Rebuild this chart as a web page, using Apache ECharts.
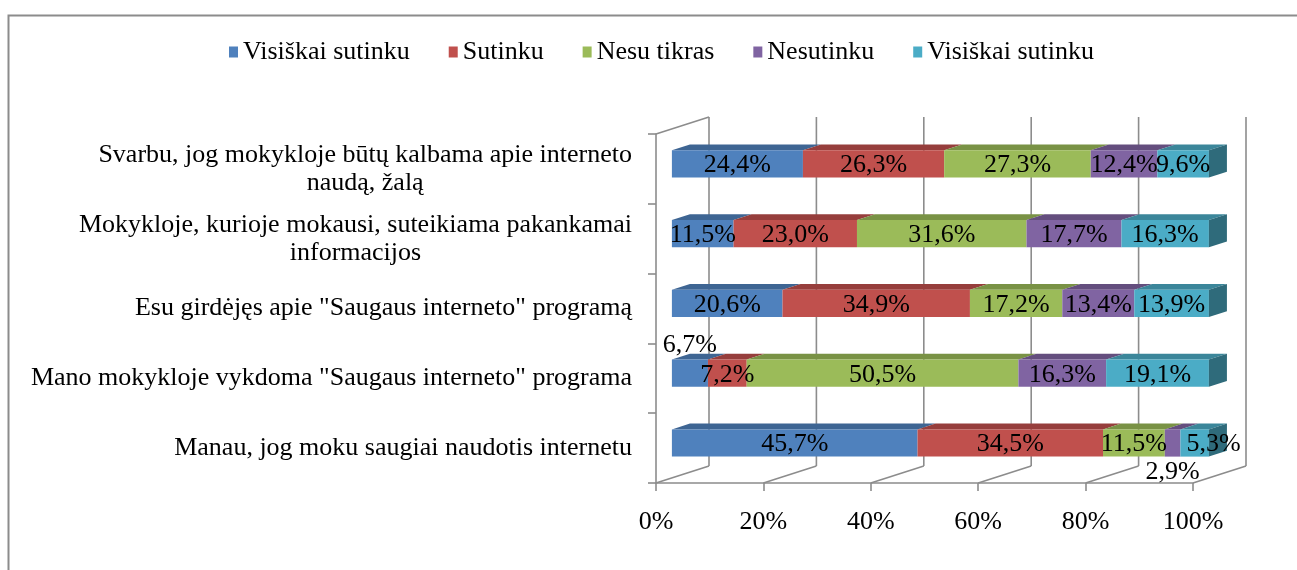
<!DOCTYPE html>
<html><head><meta charset="utf-8">
<script src="https://cdn.jsdelivr.net/npm/echarts@6/dist/echarts.min.js"></script>
<style>html,body{margin:0;padding:0;background:#fff}#c{width:1297px;height:570px}</style>
</head><body><div id="c"></div>
<script>
const categories = [
  'Svarbu, jog mokykloje būtų kalbama apie interneto\nnaudą, žalą',
  'Mokykloje, kurioje mokausi, suteikiama pakankamai\ninformacijos',
  'Esu girdėjęs apie "Saugaus interneto" programą',
  'Mano mokykloje vykdoma "Saugaus interneto" programa',
  'Manau, jog moku saugiai naudotis internetu'
];
const seriesNames = ['Visiškai sutinku', 'Sutinku', 'Nesu tikras', 'Nesutinku', 'Visiškai sutinku'];
const visiskaiSutinku = [24.4, 11.5, 20.6, 6.7, 45.7];
const sutinku        = [26.3, 23.0, 34.9, 7.2, 34.5];
const nesuTikras     = [27.3, 31.6, 17.2, 50.5, 11.5];
const nesutinku      = [12.4, 17.7, 13.4, 16.3, 2.9];
const visiskaiSutinku2 = [9.6, 16.3, 13.9, 19.1, 5.3];
const tickValues = [0, 20, 40, 60, 80, 100];

const seriesValues = [visiskaiSutinku, sutinku, nesuTikras, nesutinku, visiskaiSutinku2];
const colors = ['#4F81BD', '#C0504D', '#9BBB59', '#8064A2', '#4BACC6'];
const FONT = "'Liberation Serif','Times New Roman',serif";
const GRAY = '#8c8c8c';
const DEPTH = [53, -17];
const T0 = 0.30, T1 = 0.64;
const BAR_RATIO = 0.39;
// special label placements: key "category-series"
const specialLabels = { '3-0': 'above', '4-3': 'below', '4-4': 'right' };

function shade(hex, f) {
  const n = parseInt(hex.slice(1), 16);
  const r = Math.round(((n >> 16) & 255) * f), g = Math.round(((n >> 8) & 255) * f), b = Math.round((n & 255) * f);
  return 'rgb(' + r + ',' + g + ',' + b + ')';
}
function fmt(v) { return v.toFixed(1).replace('.', ',') + '%'; }

const totals = categories.map((c, ci) => seriesValues.reduce((s, arr) => s + arr[ci], 0));
const cum = categories.map(() => 0);
const lastIdx = seriesValues.length - 1;

function makeRender(si) {
  return function (params, api) {
    const s = api.value(0), ci = api.value(1), e = api.value(2), v = api.value(3);
    const a = api.coord([s, ci]), b = api.coord([e, ci]);
    const bandH = api.size([0, 1])[1];
    const h = bandH * BAR_RATIO;
    const fx = DEPTH[0] * T0, fy = DEPTH[1] * T0;
    const dx = DEPTH[0] * (T1 - T0), dy = DEPTH[1] * (T1 - T0);
    const x0 = a[0] + fx, x1 = b[0] + fx, cy = a[1] + fy;
    const top = cy - h / 2, bot = cy + h / 2;
    const children = [
      { type: 'polygon', shape: { points: [[x0, top], [x1, top], [x1 + dx, top + dy], [x0 + dx, top + dy]] },
        style: { fill: shade(colors[si], 0.78) } },
      { type: 'rect', shape: { x: x0, y: top, width: x1 - x0, height: h }, style: { fill: colors[si] } }
    ];
    if (si === lastIdx) {
      children.push({ type: 'polygon', shape: { points: [[x1, top], [x1 + dx, top + dy], [x1 + dx, bot + dy], [x1, bot]] },
        style: { fill: shade(colors[si], 0.62) } });
    }
    const mode = specialLabels[ci + '-' + si];
    let lx = (x0 + x1) / 2, ly = cy + 1.5, va = 'middle';
    if (mode === 'above') { ly = top - 1; va = 'bottom'; }
    else if (mode === 'below') { ly = bot + 3; va = 'top'; }
    else if (mode === 'right') { lx = (x0 + x1) / 2 + 19; }
    children.push({ type: 'text', z2: 100, x: lx, y: ly,
      style: { text: fmt(v), fill: '#000', fontSize: 26, fontFamily: FONT,
        align: 'center', verticalAlign: va, textAlign: 'center', textVerticalAlign: va } });
    return { type: 'group', children: children };
  };
}

const barSeries = seriesValues.map((arr, si) => {
  const data = arr.map((v, ci) => {
    const start = cum[ci] / totals[ci] * 100;
    cum[ci] += v;
    const end = cum[ci] / totals[ci] * 100;
    return [start, ci, end, v];
  });
  return {
    type: 'custom', name: seriesNames[si] + (si === lastIdx ? ' ' : ''),
    itemStyle: { color: colors[si] }, z: 3, clip: false,
    encode: { x: [0, 2], y: 1 },
    renderItem: makeRender(si), data: data
  };
});

const frameSeries = {
  type: 'custom', name: 'frame', z: 1, clip: false, silent: true,
  encode: { x: 0 },
  data: tickValues.map(v => [v]),
  renderItem: function (params, api) {
    const v = api.value(0);
    const cs = params.coordSys;
    const x = api.coord([v, 0])[0];
    const top = cs.y, bottom = cs.y + cs.height;
    const st = { stroke: GRAY, lineWidth: 1.6 };
    const ch = [
      { type: 'line', shape: { x1: x, y1: bottom, x2: x + DEPTH[0], y2: bottom + DEPTH[1] }, style: st },
      { type: 'line', shape: { x1: x + DEPTH[0], y1: top + DEPTH[1], x2: x + DEPTH[0], y2: bottom + DEPTH[1] }, style: st }
    ];
    if (v === tickValues[0]) {
      ch.push({ type: 'line', shape: { x1: x, y1: top, x2: x + DEPTH[0], y2: top + DEPTH[1] }, style: st });
    }
    return { type: 'group', children: ch };
  }
};

const chart = echarts.init(document.getElementById('c'), null, { renderer: 'canvas' });
chart.setOption({
  animation: false,
  backgroundColor: '#fff',
  graphic: [{ type: 'rect', left: 6, top: 13, shape: { width: 1320, height: 600 },
    style: { fill: 'none', stroke: GRAY, lineWidth: 2 }, silent: true }],
  legend: {
    data: seriesNames.map((n, i) => n + (i === lastIdx ? ' ' : '')),
    left: 224, top: 34, icon: 'rect', itemWidth: 9, itemHeight: 11, itemGap: 39,
    textStyle: { fontFamily: FONT, fontSize: 26, color: '#000' }
  },
  grid: { left: 656, right: 104, top: 134, bottom: 87, containLabel: false },
  xAxis: {
    type: 'value', min: 0, max: 100, interval: 20,
    axisLine: { show: true, lineStyle: { color: GRAY, width: 1.6 } },
    axisTick: { show: true, length: 8, lineStyle: { color: GRAY, width: 1.6 } },
    splitLine: { show: false },
    axisLabel: { formatter: '{value}%', fontFamily: FONT, fontSize: 26, color: '#000', margin: 26 }
  },
  yAxis: {
    type: 'category', data: categories, inverse: true,
    axisLine: { show: true, lineStyle: { color: GRAY, width: 1.6 } },
    axisTick: { show: true, length: 8, lineStyle: { color: GRAY, width: 1.6 } },
    splitLine: { show: false },
    axisLabel: {
      margin: 24, fontFamily: FONT, fontSize: 26, color: '#000', lineHeight: 28,
      formatter: function (val) { return val.split('\n').map(l => '{c|' + l + '}').join('\n'); },
      rich: { c: { align: 'center', fontFamily: FONT, fontSize: 26, color: '#000', lineHeight: 28 } }
    }
  },
  series: [frameSeries].concat(barSeries)
});
</script></body></html>
